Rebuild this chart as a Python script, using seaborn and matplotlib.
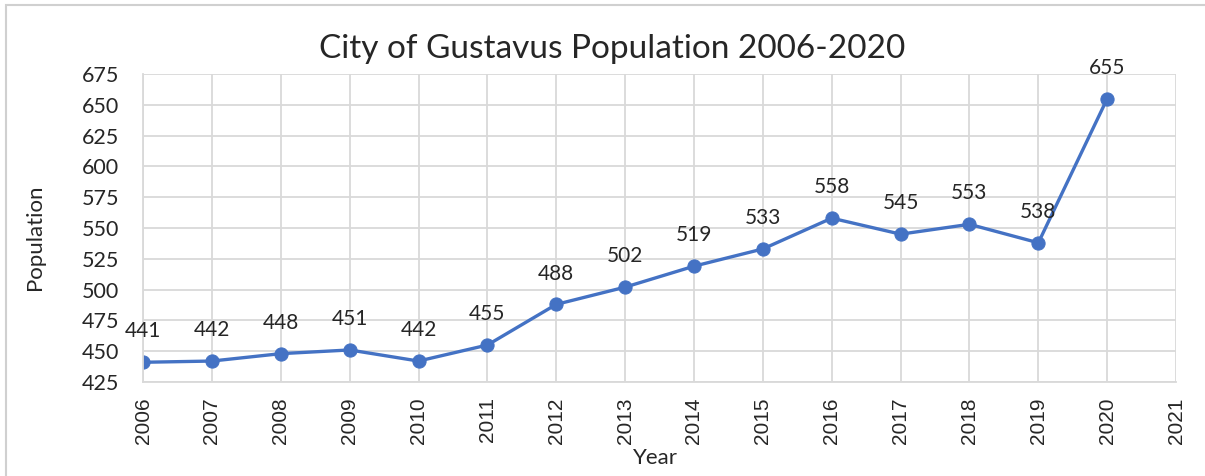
import numpy as np
import pandas as pd
import seaborn as sns
import matplotlib.pyplot as plt
from matplotlib.patches import Rectangle

years = [2006, 2007, 2008, 2009, 2010, 2011, 2012, 2013, 2014, 2015, 2016, 2017, 2018, 2019, 2020]
population = [441, 442, 448, 451, 442, 455, 488, 502, 519, 533, 558, 545, 553, 538, 655]
x_ticks = list(range(2006, 2022))
y_ticks = list(range(425, 676, 25))

df = pd.DataFrame({'Year': years, 'Population': population})

sns.set_style('white')
plt.rcParams['font.family'] = ['Lato', 'DejaVu Sans']

fig = plt.figure(figsize=(12.05, 4.76), dpi=100)
ax = fig.add_axes([0.1187, 0.1975, 0.8573, 0.647])

line_color = '#4472C4'
sns.lineplot(data=df, x='Year', y='Population', ax=ax, color=line_color,
             linewidth=2.4, marker='o', markersize=9.5, markeredgecolor=line_color)

for x, y in zip(years, population):
    ax.annotate(str(y), (x, y), xytext=(0, 15), textcoords='offset points',
                ha='center', va='bottom', fontsize=15)

ax.set_xlim(2006, 2021)
ax.set_ylim(425, 675)
ax.set_xticks(x_ticks)
ax.set_yticks(y_ticks)
ax.set_xticklabels([str(t) for t in x_ticks], rotation=90,
                   fontfamily='Liberation Sans', fontsize=15)
ax.set_yticklabels([str(t) for t in y_ticks], fontsize=15.5)
ax.tick_params(axis='x', length=0, pad=11)
ax.tick_params(axis='y', length=0, pad=17)
ax.grid(True, color='#d9d9d9', linewidth=1.3)
ax.set_axisbelow(True)
for s in ['top', 'right']:
    ax.spines[s].set_visible(False)
for s in ['left', 'bottom']:
    ax.spines[s].set_color('#d9d9d9')
    ax.spines[s].set_linewidth(1.3)

ax.set_xlabel('')
ax.set_ylabel('')
fig.text(0.5436, 0.038, 'Year', ha='center', va='center', fontsize=16)
fig.text(0.029, 0.502, 'Population', ha='center', va='center', rotation=90, fontsize=16)

fig.text(0.508, 0.898, 'City of Gustavus Population 2006-2020', ha='center', va='center',
         fontsize=24)

# chart frame, partly cut off
fig.patches.append(Rectangle((0.005, -0.1), 1.1, 1.09, transform=fig.transFigure,
                             fill=False, edgecolor='#d0d0d0', linewidth=1.5))

fig.savefig('out.png', dpi=100)
